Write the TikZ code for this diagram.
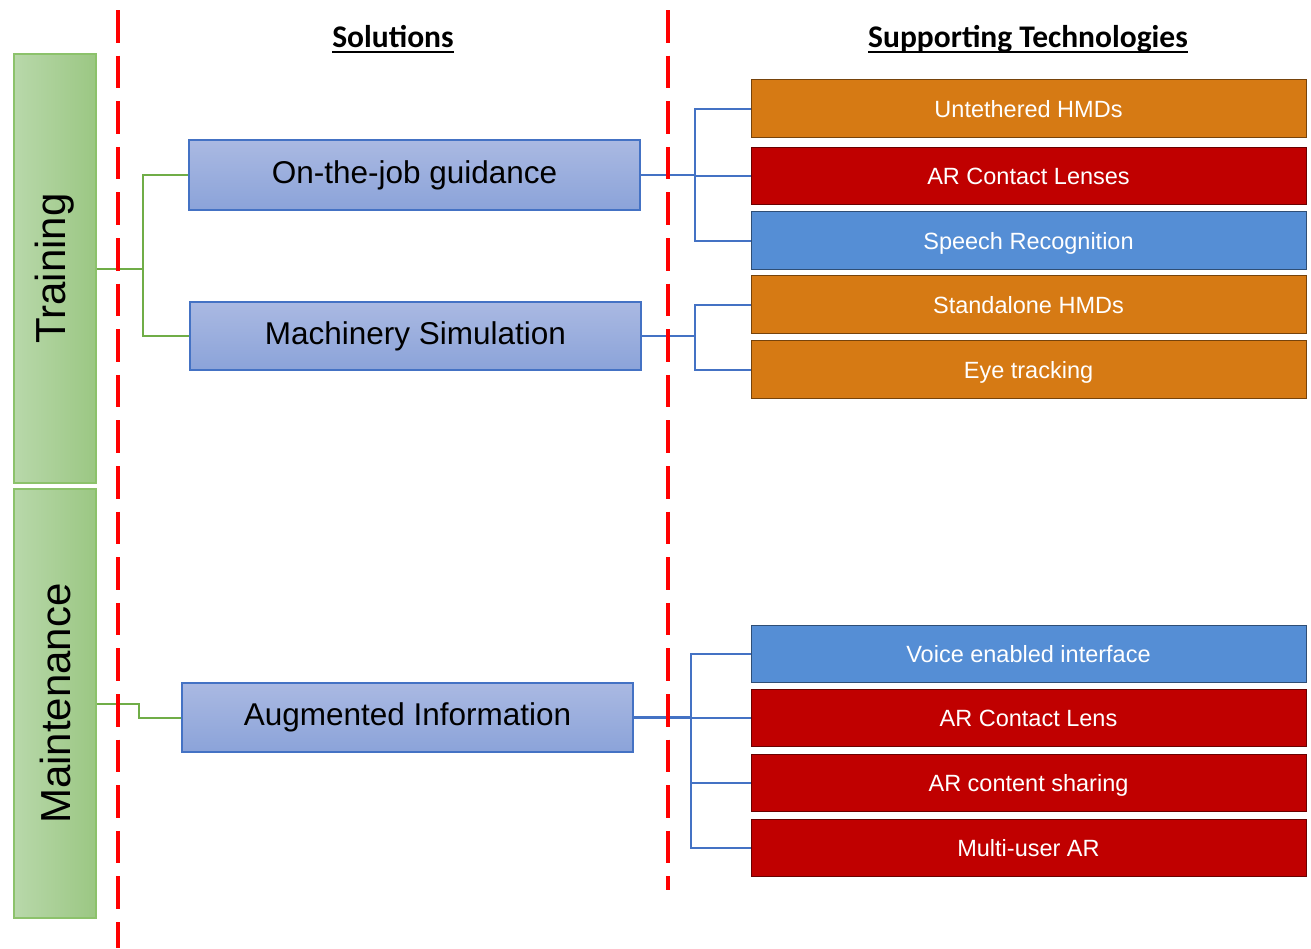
\documentclass[tikz,border=0pt]{standalone}
\usepackage{fontspec}
\setmainfont{Liberation Sans}
\newfontfamily\headfont{Carlito}
\usetikzlibrary{calc}
\definecolor{techorange}{HTML}{D67A14}
\definecolor{techred}{HTML}{C00000}
\definecolor{techblue}{HTML}{558ED5}
\definecolor{solborder}{HTML}{4472C4}
\definecolor{soltop}{HTML}{AAB9E2}
\definecolor{solbot}{HTML}{8BA3D9}
\definecolor{grpleft}{HTML}{B8D8AA}
\definecolor{grpright}{HTML}{9BC783}
\definecolor{grpborder}{HTML}{8CC26B}
\definecolor{linkgreen}{HTML}{70AD47}
\definecolor{linkblue}{HTML}{4472C4}
\definecolor{divider}{HTML}{FF0000}
\tikzset{
  group/.style={draw=grpborder, line width=1.5pt, left color=grpleft, right color=grpright,
    minimum width=82pt, inner sep=0pt, font=\fontsize{42}{46}\selectfont},
  solution/.style={draw=solborder, line width=1.5pt, top color=soltop, bottom color=solbot,
    minimum width=451pt, inner sep=0pt, font=\fontsize{31.5}{36}\selectfont},
  tech/.style={draw=#1!55!black, line width=1pt, fill=#1, text=white,
    minimum width=555pt, minimum height=57.5pt, inner sep=0pt,
    text height=17.2pt, text depth=0pt, font=\fontsize{23.5}{28}\selectfont},
  header/.style={inner sep=0pt, anchor=base, font=\headfont\bfseries\fontsize{31.5}{36}\selectfont},
  headrule/.style={draw=black, line width=2pt},
  greenlink/.style={draw=linkgreen, line width=2pt},
  bluelink/.style={draw=linkblue, line width=2pt},
  dividerline/.style={draw=divider, line width=4pt, dash pattern=on 32.5pt off 13.1pt},
}
\begin{document}
\begin{tikzpicture}[x=1pt, y=-1pt]
\useasboundingbox (0,0) rectangle (1311,948);

% column headers, underlined at a fixed offset below the baseline
\node[header] (hsol) at (393,47) {Solutions};
\node[header] (htech) at (1028,47) {Supporting Technologies};
\draw[headrule] ([yshift=-5pt]hsol.base west) -- ([yshift=-5pt]hsol.base east);
\draw[headrule] ([yshift=-5pt]htech.base west) -- ([yshift=-5pt]htech.base east);

% application areas
\node[group, minimum height=429pt] (train) at (55,268.5) {\rotatebox{90}{Training}};
\node[group, minimum height=429pt] (maint) at (55,703.5) {\rotatebox{90}{Maintenance}};

% solutions
\node[solution, minimum height=70pt] (ojg) at (414.5,175) {On-the-job guidance};
\node[solution, minimum height=68pt] (mach) at (415.5,336) {Machinery Simulation};
\node[solution, minimum height=69pt] (aug) at (407.5,717.5) {Augmented Information};

% supporting technologies
\node[tech=techorange] (t1) at (1028.5,108.5) {Untethered HMDs};
\node[tech=techred] (t2) at (1028.5,176) {AR Contact Lenses};
\node[tech=techblue] (t3) at (1028.5,240.5) {Speech Recognition};
\node[tech=techorange] (t4) at (1028.5,304.5) {Standalone HMDs};
\node[tech=techorange] (t5) at (1028.5,369.5) {Eye tracking};
\node[tech=techblue] (t6) at (1028.5,654) {Voice enabled interface};
\node[tech=techred] (t7) at (1028.5,718) {AR Contact Lens};
\node[tech=techred] (t8) at (1028.5,783) {AR content sharing};
\node[tech=techred] (t9) at (1028.5,848) {Multi-user AR};

% area -> solution links
\coordinate (gt) at (143,268.5);
\draw[greenlink] (train.east) -- (gt);
\draw[greenlink] (gt) |- (ojg.west);
\draw[greenlink] (gt) |- (mach.west);
\coordinate (gm) at (139,703.5);
\draw[greenlink] (maint.east) -- (gm) |- (aug.west);

% solution -> technology links
\coordinate (b1) at (695,175);
\draw[bluelink, line width=2.8pt] (ojg.east) -- (b1);
\foreach \t in {t1,t2,t3} \draw[bluelink] (b1) |- (\t.west);
\coordinate (b2) at (695,336);
\draw[bluelink, line width=2.8pt] (mach.east) -- (b2);
\foreach \t in {t4,t5} \draw[bluelink] (b2) |- (\t.west);
\coordinate (b3) at (691,717.5);
\draw[bluelink, line width=2.8pt] (aug.east) -- (b3);
\foreach \t in {t6,t7,t8,t9} \draw[bluelink] (b3) |- (\t.west);

% column dividers
\coordinate (d1a) at (118,10);
\coordinate (d1b) at (118,948);
\coordinate (d2a) at (668,10);
\coordinate (d2b) at (668,890);
\draw[dividerline] (d1a) -- (d1b);
\draw[dividerline] (d2a) -- (d2b);
\end{tikzpicture}
\end{document}
